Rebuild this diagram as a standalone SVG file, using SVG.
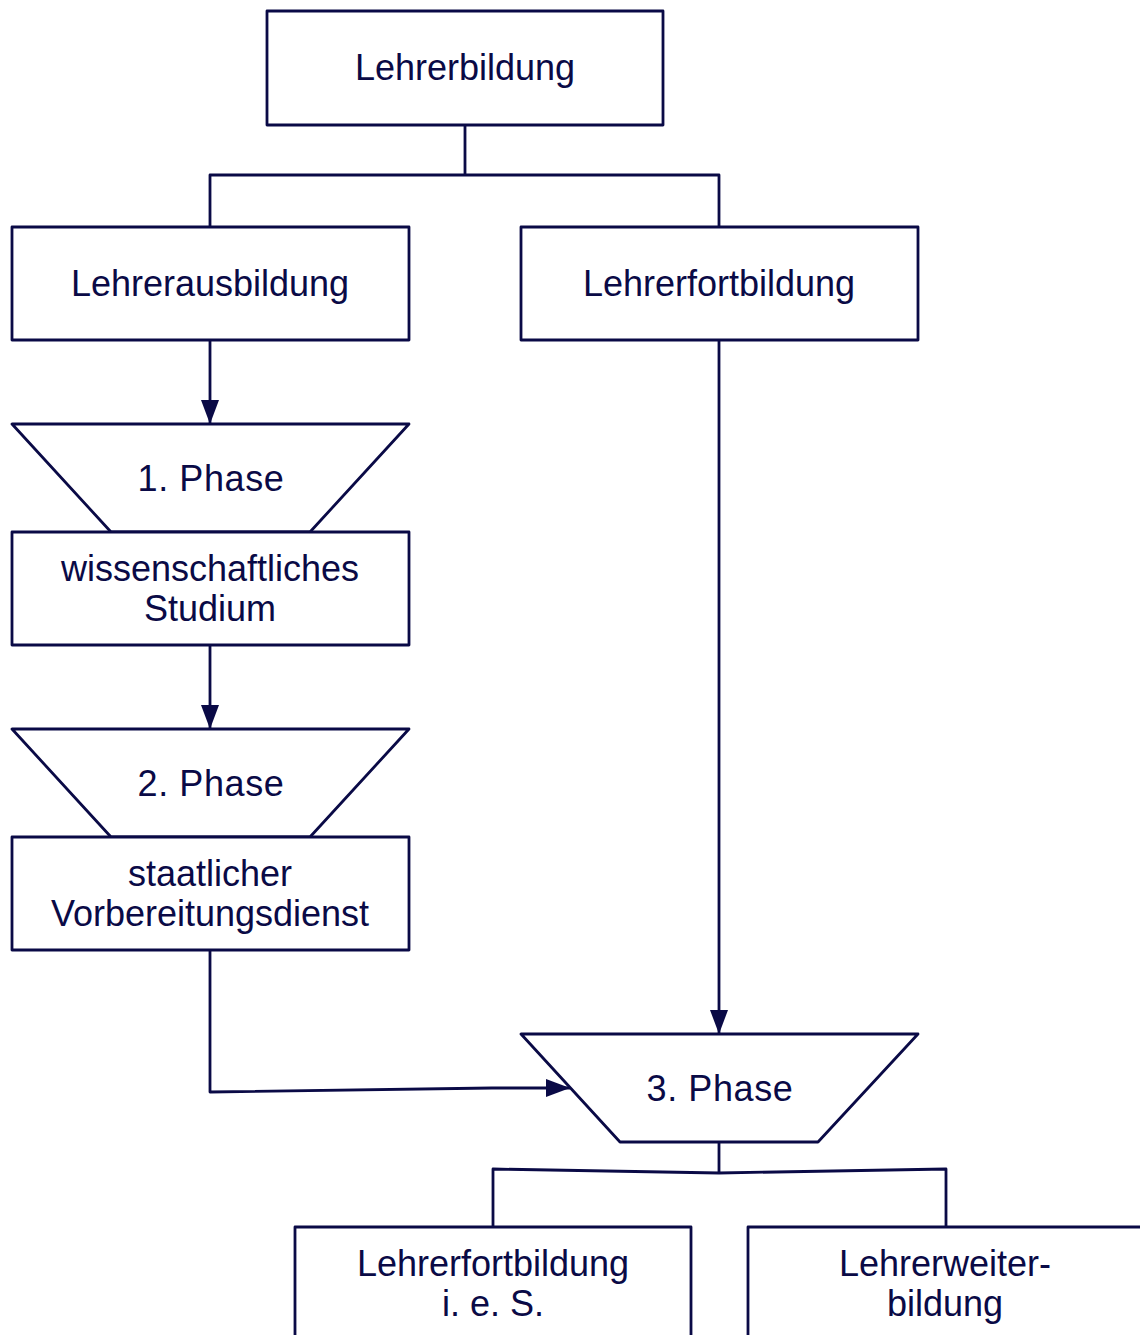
<svg xmlns="http://www.w3.org/2000/svg" width="1140" height="1335" viewBox="0 0 1140 1335">
<defs>
<style>
.box{fill:#fff;stroke:#0a0a46;stroke-width:2.8;stroke-linejoin:round}
.ln{fill:none;stroke:#0a0a46;stroke-width:2.8;stroke-linejoin:round}
.t{font-family:"Liberation Sans",Arial,sans-serif;font-size:36px;fill:#0a0a46;text-anchor:middle}
.p{letter-spacing:0.6px}
</style>
<marker id="ah" viewBox="0 0 24 18" refX="24" refY="9" markerWidth="24" markerHeight="18" markerUnits="userSpaceOnUse" orient="auto">
<path d="M0,0 L24,9 L0,18 Z" fill="#0a0a46"/>
</marker>
</defs>
<rect width="1140" height="1335" fill="#fff"/>
<g id="connectors">
<path class="ln" d="M465,125 V175 M210,227 V175 H719 V227"/>
<path class="ln" d="M210,340 V424" marker-end="url(#ah)"/>
<path class="ln" d="M210,645 V729" marker-end="url(#ah)"/>
<path class="ln" d="M719,340 V1034" marker-end="url(#ah)"/>
<path class="ln" d="M210,950 V1092 L492,1088 H570" marker-end="url(#ah)"/>
<path class="ln" d="M719,1142 V1173 M493,1227 V1169 L719,1173 L946,1169 V1227"/>
</g>
<g id="n-lehrerbildung">
<rect class="box" x="267" y="11" width="396" height="114"/>
<text class="t" x="465" y="80">Lehrerbildung</text>
</g>
<g id="n-lehrerausbildung">
<rect class="box" x="12" y="227" width="397" height="113"/>
<text class="t" x="210" y="296">Lehrerausbildung</text>
</g>
<g id="n-lehrerfortbildung">
<rect class="box" x="521" y="227" width="397" height="113"/>
<text class="t" x="719" y="296">Lehrerfortbildung</text>
</g>
<g id="n-phase1">
<polygon class="box" points="12,424 409,424 310,532 111,532"/>
<text class="t p" x="211" y="491">1. Phase</text>
</g>
<g id="n-studium">
<rect class="box" x="12" y="532" width="397" height="113"/>
<text class="t" x="210" y="581">wissenschaftliches</text>
<text class="t" x="210" y="621">Studium</text>
</g>
<g id="n-phase2">
<polygon class="box" points="12,729 409,729 310,837 111,837"/>
<text class="t p" x="211" y="796">2. Phase</text>
</g>
<g id="n-vorbereitungsdienst">
<rect class="box" x="12" y="837" width="397" height="113"/>
<text class="t" x="210" y="886">staatlicher</text>
<text class="t" x="210" y="926">Vorbereitungsdienst</text>
</g>
<g id="n-phase3">
<polygon class="box" points="521,1034 918,1034 818,1142 620,1142"/>
<text class="t p" x="720" y="1101">3. Phase</text>
</g>
<g id="n-fortbildung-ies">
<rect class="box" x="295" y="1227" width="396" height="120"/>
<text class="t" x="493" y="1276">Lehrerfortbildung</text>
<text class="t" x="493" y="1316">i. e. S.</text>
</g>
<g id="n-weiterbildung">
<rect class="box" x="748" y="1227" width="400" height="120"/>
<text class="t" x="945" y="1276">Lehrerweiter-</text>
<text class="t" x="945" y="1316">bildung</text>
</g>
</svg>
